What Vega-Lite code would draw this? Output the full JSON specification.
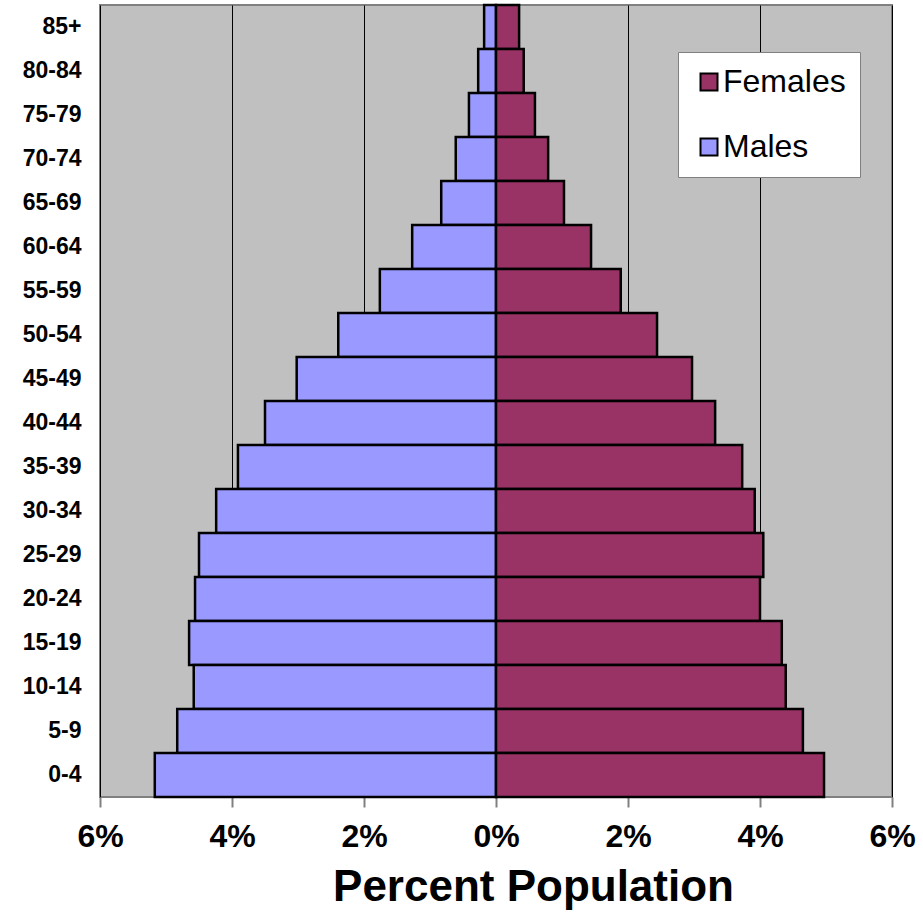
{
  "$schema": "https://vega.github.io/schema/vega-lite/v6.json",
  "width": 792,
  "height": 792,
  "autosize": "none",
  "padding": {"left": 100, "top": 5, "right": 31, "bottom": 116},
  "background": "white",
  "config": {
    "font": "Liberation Sans",
    "view": {"fill": "#C0C0C0", "stroke": "#808080", "strokeWidth": 2}
  },
  "data": {
    "values": [
      {"age": "85+", "sex": "Males", "pct": -0.18},
      {"age": "80-84", "sex": "Males", "pct": -0.27},
      {"age": "75-79", "sex": "Males", "pct": -0.41},
      {"age": "70-74", "sex": "Males", "pct": -0.61},
      {"age": "65-69", "sex": "Males", "pct": -0.83},
      {"age": "60-64", "sex": "Males", "pct": -1.27},
      {"age": "55-59", "sex": "Males", "pct": -1.76},
      {"age": "50-54", "sex": "Males", "pct": -2.39},
      {"age": "45-49", "sex": "Males", "pct": -3.02},
      {"age": "40-44", "sex": "Males", "pct": -3.50},
      {"age": "35-39", "sex": "Males", "pct": -3.91},
      {"age": "30-34", "sex": "Males", "pct": -4.24},
      {"age": "25-29", "sex": "Males", "pct": -4.50},
      {"age": "20-24", "sex": "Males", "pct": -4.56},
      {"age": "15-19", "sex": "Males", "pct": -4.65},
      {"age": "10-14", "sex": "Males", "pct": -4.58},
      {"age": "5-9", "sex": "Males", "pct": -4.83},
      {"age": "0-4", "sex": "Males", "pct": -5.17},
      {"age": "85+", "sex": "Females", "pct": 0.35},
      {"age": "80-84", "sex": "Females", "pct": 0.42},
      {"age": "75-79", "sex": "Females", "pct": 0.59},
      {"age": "70-74", "sex": "Females", "pct": 0.79},
      {"age": "65-69", "sex": "Females", "pct": 1.03},
      {"age": "60-64", "sex": "Females", "pct": 1.44},
      {"age": "55-59", "sex": "Females", "pct": 1.89},
      {"age": "50-54", "sex": "Females", "pct": 2.44},
      {"age": "45-49", "sex": "Females", "pct": 2.97},
      {"age": "40-44", "sex": "Females", "pct": 3.32},
      {"age": "35-39", "sex": "Females", "pct": 3.73},
      {"age": "30-34", "sex": "Females", "pct": 3.92},
      {"age": "25-29", "sex": "Females", "pct": 4.05},
      {"age": "20-24", "sex": "Females", "pct": 4.00},
      {"age": "15-19", "sex": "Females", "pct": 4.33},
      {"age": "10-14", "sex": "Females", "pct": 4.39},
      {"age": "5-9", "sex": "Females", "pct": 4.65},
      {"age": "0-4", "sex": "Females", "pct": 4.97}
    ]
  },
  "mark": {"type": "bar", "stroke": "black", "strokeWidth": 2.5},
  "encoding": {
    "y": {
      "field": "age",
      "type": "nominal",
      "sort": ["85+", "80-84", "75-79", "70-74", "65-69", "60-64", "55-59", "50-54", "45-49", "40-44", "35-39", "30-34", "25-29", "20-24", "15-19", "10-14", "5-9", "0-4"],
      "scale": {"paddingInner": 0, "paddingOuter": 0},
      "axis": {
        "title": null,
        "ticks": false,
        "domain": false,
        "labelFontSize": 23,
        "labelFontWeight": "bold",
        "labelColor": "black",
        "labelPadding": 19
      }
    },
    "x": {
      "field": "pct",
      "type": "quantitative",
      "scale": {"domain": [-6, 6], "nice": false},
      "axis": {
        "values": [-6, -4, -2, 0, 2, 4, 6],
        "labelExpr": "abs(datum.value) + '%'",
        "labelFlush": false,
        "labelOverlap": false,
        "title": "Percent Population",
        "titleFontSize": 44,
        "titleFontWeight": "bold",
        "titleColor": "black",
        "titleX": 433,
        "titlePadding": 13,
        "labelFontSize": 32,
        "labelFontWeight": "bold",
        "labelColor": "black",
        "labelPadding": 14,
        "tickSize": 10,
        "tickColor": "#808080",
        "tickWidth": 2,
        "domain": false,
        "grid": true,
        "gridColor": "black",
        "gridWidth": 1,
        "gridOpacity": 1
      }
    },
    "color": {
      "field": "sex",
      "type": "nominal",
      "scale": {"domain": ["Females", "Males"], "range": ["#993366", "#9999FF"]},
      "legend": {
        "title": null,
        "orient": "none",
        "legendX": 578,
        "legendY": 47,
        "fillColor": "white",
        "strokeColor": "#808080",
        "padding": 14,
        "symbolType": "square",
        "symbolSize": 289,
        "symbolOffset": 1,
        "symbolStrokeColor": "black",
        "symbolStrokeWidth": 2,
        "labelFontSize": 32,
        "labelColor": "black",
        "labelOffset": -2,
        "rowPadding": 33,
        "labelLimit": 300
      }
    }
  }
}
